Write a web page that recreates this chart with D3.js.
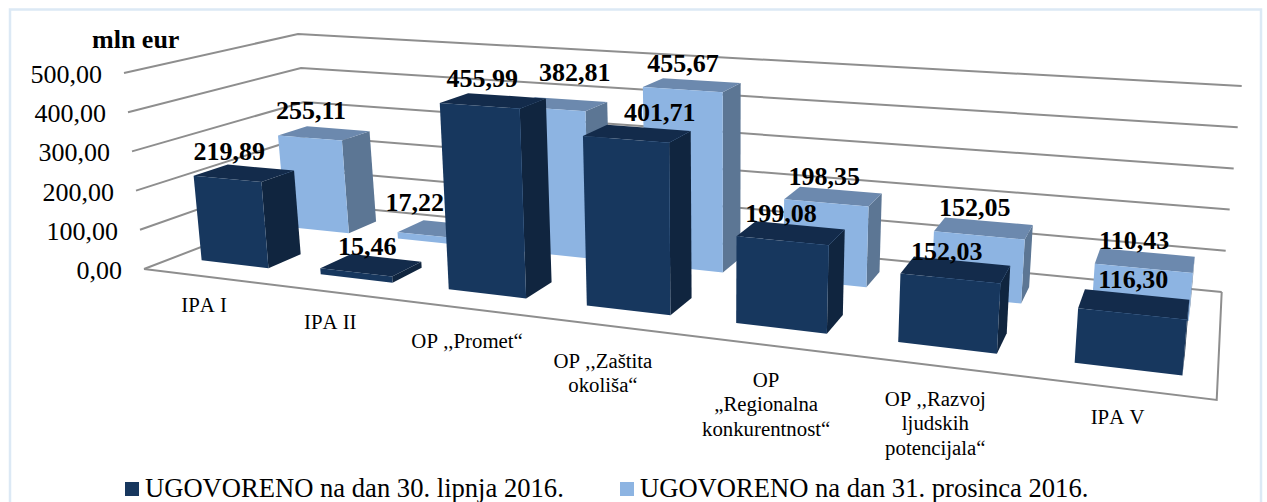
<!DOCTYPE html>
<html><head><meta charset="utf-8">
<script src="https://cdn.jsdelivr.net/npm/d3@7/dist/d3.min.js"></script>
<style>html,body{margin:0;padding:0;background:#fff}svg{display:block}text{font-family:"Liberation Serif","Times New Roman",serif;fill:#000}</style>
</head><body><svg id="c" width="1267" height="502"></svg>
<script>
const categories=[["IPA I"],["IPA II"],["OP ,,Promet“"],["OP ,,Zaštita","okoliša“"],["OP","„Regionalna","konkurentnost“"],["OP ,,Razvoj","ljudskih","potencijala“"],["IPA V"]];
const seriesNames=["UGOVORENO na dan 30. lipnja 2016.","UGOVORENO na dan 31. prosinca 2016."];
const june=[219.89,15.46,455.99,401.71,199.08,152.03,116.30];
const december=[255.11,17.22,382.81,455.67,198.35,152.05,110.43];
const tickValues=[0,100,200,300,400,500];
const colors=[{front:"#17375e",top:"#132b4b",side:"#10253f"},{front:"#8db4e2",top:"#6c89ae",side:"#5c7694"}];
// hand placement of labels, as in the source chart
const labelNudge=[
  [[-15,1],[-4,4],[-11,0],[22.5,2],[-10,3],[-9,4],[-1,-2]],
  [[-13,0],[-29,-4],[15,-9],[-9,1],[-9,3],[-9,2],[-11,3]]
];
const catDx=[-1,1,4,-5,1,-1,-6];
const catDy=[36,37,40,42,42,40,35];

function homography(q){
  const [[x0,y0],[x1,y1],[x2,y2],[x3,y3]]=q;
  const dx1=x1-x2,dx2=x3-x2,sx=x0-x1+x2-x3,dy1=y1-y2,dy2=y3-y2,sy=y0-y1+y2-y3;
  const den=dx1*dy2-dx2*dy1,g=(sx*dy2-dx2*sy)/den,h=(dx1*sy-sx*dy1)/den;
  const a=x1-x0+g*x1,b=x3-x0+h*x3,d=y1-y0+g*y1,e=y3-y0+h*y3;
  return (u,w)=>{const k=g*u+h*w+1;return [(a*u+b*w+x0)/k,(d*u+e*w+y0)/k];};
}
const floorP=homography([[144,269],[1216.7,400],[1221.7,292],[313,204]]);
const ceilP=homography([[124,73],[1238,151],[1241.7,86],[298,34]]);
const yScale=d3.scaleLinear().domain([0,500]).range([0,1]);
const uScale=d3.scaleBand().domain(d3.range(categories.length)).range([.003,1.005]).paddingInner(.43).paddingOuter(.215);
const wScale=d3.scaleBand().domain([0,1]).range([0,1]).paddingInner(.62).paddingOuter(.32);
const P=(u,w,v)=>{const a=floorP(u,w),b=ceilP(u,w),t=yScale(v);return [a[0]+(b[0]-a[0])*t,a[1]+(b[1]-a[1])*t];};
const svg=d3.select("#c");
const line=d3.line();
svg.append("rect").attr("x",10).attr("y",9.5).attr("width",1251).attr("height",500).attr("fill","#fff").attr("stroke","#dce9f5").attr("stroke-width",2.5);
const grid=svg.append("g").attr("fill","none").attr("stroke","#8e8e8e").attr("stroke-width",2);
tickValues.forEach(v=>{grid.append("path").attr("d",line([P(0,0,v),P(0,1,v),P(1,1,v)]));});
grid.append("path").attr("d",line([P(0,0,0),P(1,0,0),P(1,1,0)]));
const bars=svg.append("g");
function bar(i,s,v){
  const u0=uScale(i),u1=u0+uScale.bandwidth(),w0=wScale(s),w1=w0+wScale.bandwidth(),c=colors[s];
  const g=bars.append("g");
  g.append("path").attr("fill",c.side).attr("d",line([P(u1,w0,0),P(u1,w1,0),P(u1,w1,v),P(u1,w0,v)])+"Z");
  g.append("path").attr("fill",c.top).attr("d",line([P(u0,w0,v),P(u1,w0,v),P(u1,w1,v),P(u0,w1,v)])+"Z");
  g.append("path").attr("fill",c.front).attr("d",line([P(u0,w0,0),P(u1,w0,0),P(u1,w0,v),P(u0,w0,v)])+"Z");
}
december.forEach((v,i)=>bar(i,1,v));
june.forEach((v,i)=>bar(i,0,v));
const fmt=v=>v.toFixed(2).replace(".",",");
const labels=svg.append("g").attr("font-weight","bold").attr("font-size",26).attr("text-anchor","middle");
[june,december].forEach((arr,s)=>arr.forEach((v,i)=>{
  const p=P(uScale(i)+uScale.bandwidth()/2,wScale(s)+wScale.bandwidth()/2,v),n=labelNudge[s][i];
  labels.append("text").attr("x",p[0]+n[0]).attr("y",p[1]-14+n[1]).text(fmt(v));
}));
tickValues.forEach(v=>{const p=P(0,0,v);
  svg.append("text").attr("x",p[0]-22).attr("y",p[1]+10).attr("text-anchor","end").attr("font-size",26).text(fmt(v));});
svg.append("text").attr("x",92).attr("y",48).attr("font-weight","bold").attr("font-size",26).text("mln eur");
categories.forEach((lines,i)=>{
  const p=floorP(uScale(i)+uScale.bandwidth()/2,0);
  lines.forEach((t,j)=>svg.append("text").attr("x",p[0]+catDx[i]).attr("y",p[1]+catDy[i]+j*24.5).attr("text-anchor","middle").attr("font-size",20.8).style("font-kerning","none").text(t));
});
seriesNames.forEach((t,i)=>{
  const x=[125,620][i];
  svg.append("rect").attr("x",x).attr("y",482).attr("width",14).attr("height",14).attr("fill",colors[i].front);
  svg.append("text").attr("x",x+20).attr("y",497).attr("font-size",26.6).text(t);
});
</script></body></html>
